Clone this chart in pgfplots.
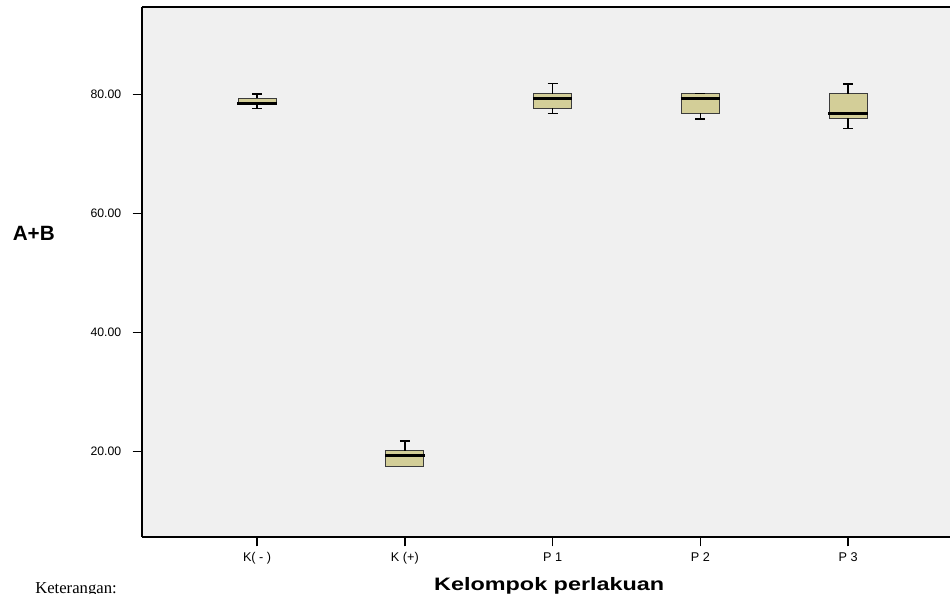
\documentclass[border=0pt]{standalone}
\usepackage{pgfplots}
\pgfplotsset{compat=1.18}
\usepackage{fontspec}
\setmainfont{Liberation Sans}
\newfontfamily\timesf{Liberation Serif}
\definecolor{boxfill}{HTML}{D3CE98}
\definecolor{bgcol}{HTML}{F0F0F0}
\definecolor{boxedge}{HTML}{3C3C3C}
\begin{document}
\begin{tikzpicture}
\fill[bgcol] (106.5pt,42pt) rectangle (712.5pt,439.5pt);
\begin{axis}[
  at={(106.5pt,42pt)}, anchor=south west,
  scale only axis, width=606pt, height=397.5pt,
  xmin=0.221, xmax=5.69, ymin=5.6, ymax=94.7,
  axis x line*=box, axis y line*=left,
  axis line style={black, line width=1.2pt},
  xtick={1,2,3,4,5}, xticklabels={K( - ), K (+), P 1, P 2, P 3},
  ytick={20,40,60,80},
  tick align=outside, xtick pos=left, ytick pos=left,
  major tick length=7pt,
  tick style={black, line width=1.1pt},
  /pgf/number format/assume math mode=true,
  yticklabel style={/pgf/number format/.cd, fixed, fixed zerofill, precision=2, /tikz/.cd, font=\fontsize{9.2}{10}\selectfont, xshift=-5pt},
  xticklabel style={font=\fontsize{9.5}{10}\selectfont, yshift=-1pt},
  xlabel={\scalebox{1.3}[1]{Kelompok perlakuan}},
  ylabel={A+B},
  every axis x label/.style={at={(axis description cs:0.504,-0.1)}, anchor=base, font=\bfseries\fontsize{13.5}{16}\selectfont},
  every axis y label/.style={at={(axis description cs:-0.134,0.56)}, anchor=base, font=\bfseries\fontsize{15.5}{18}\selectfont},
  unbounded coords=jump,
]
% boxes: lower quartile to upper quartile
\addplot[draw=boxedge, fill=boxfill, line width=0.8pt] coordinates {(0.8715,78.35) (1.1285,78.35) (1.1285,79.36) (0.8715,79.36)} -- cycle;
\addplot[draw=boxedge, fill=boxfill, line width=0.8pt] coordinates {(1.8715,17.49) (2.1285,17.49) (2.1285,20.1) (1.8715,20.1)} -- cycle;
\addplot[draw=boxedge, fill=boxfill, line width=0.8pt] coordinates {(2.8715,77.67) (3.1285,77.67) (3.1285,80.13) (2.8715,80.13)} -- cycle;
\addplot[draw=boxedge, fill=boxfill, line width=0.8pt] coordinates {(3.8715,76.83) (4.1285,76.83) (4.1285,80.13) (3.8715,80.13)} -- cycle;
\addplot[draw=boxedge, fill=boxfill, line width=0.8pt] coordinates {(4.8715,76.0) (5.1285,76.0) (5.1285,80.13) (4.8715,80.13)} -- cycle;
% whiskers and caps
\addplot[black, line width=1.1pt] coordinates {
 (1,79.36) (1,80.08) (nan,nan) (0.966,80.08) (1.034,80.08) (nan,nan)
 (1,78.35) (1,77.6) (nan,nan) (0.966,77.6) (1.034,77.6) (nan,nan)
 (2,20.1) (2,21.74) (nan,nan) (1.966,21.74) (2.034,21.74) (nan,nan)
 (3,80.13) (3,81.81) (nan,nan) (2.966,81.81) (3.034,81.81) (nan,nan)
 (3,77.67) (3,76.77) (nan,nan) (2.966,76.77) (3.034,76.77) (nan,nan)
 (3.966,80.2) (4.034,80.2) (nan,nan)
 (4,76.83) (4,75.88) (nan,nan) (3.966,75.88) (4.034,75.88) (nan,nan)
 (5,80.13) (5,81.76) (nan,nan) (4.966,81.76) (5.034,81.76) (nan,nan)
 (5,76.0) (5,74.31) (nan,nan) (4.966,74.31) (5.034,74.31)
};
% medians
\addplot[black, line width=2.4pt] coordinates {
 (0.866,78.5) (1.134,78.5) (nan,nan)
 (1.866,19.27) (2.134,19.27) (nan,nan)
 (2.866,79.35) (3.134,79.35) (nan,nan)
 (3.866,79.35) (4.134,79.35) (nan,nan)
 (4.866,76.83) (5.134,76.83)
};
\end{axis}
\node[anchor=base west, inner sep=0pt, font=\timesf\fontsize{12.5}{14}\selectfont] at (26.25pt,0pt) {Keterangan:};
\pgfresetboundingbox
\path[use as bounding box] (0,0) rectangle (712.5pt,444.75pt);
\end{tikzpicture}
\end{document}
